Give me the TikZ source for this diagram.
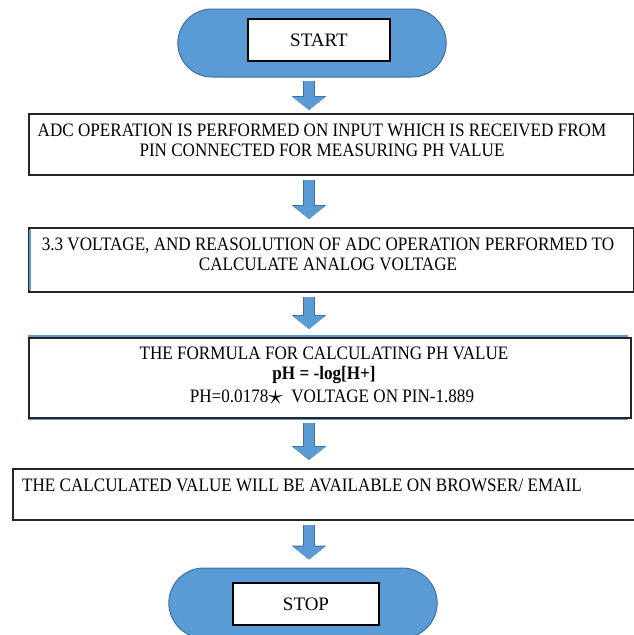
\documentclass[tikz,border=0pt]{standalone}
\usepackage{fontspec}
\setmainfont{Liberation Serif}[FakeStretch=0.9]
\newfontfamily\termfont{Liberation Serif}
\usetikzlibrary{arrows.meta,shapes.misc}
\definecolor{flowblue}{HTML}{5B9BD5}
\definecolor{flowedge}{HTML}{41719C}

\begin{document}
\begin{tikzpicture}[x=1pt, y=-1pt, >={Triangle[width=32pt,length=13pt]}]
\tikzstyle{term}=[draw=flowedge, fill=flowblue, line width=1pt, shape=rounded rectangle, minimum width=275pt, minimum height=68pt];
\tikzstyle{termtext}=[draw=black, fill=white, line width=1.5pt, minimum width=142pt, minimum height=42pt, font=\termfont\fontsize{19}{21}\selectfont];
\tikzstyle{stepbox}=[draw=black!85, line width=1.6pt, anchor=north west, inner sep=0pt];
\tikzstyle{steptext}=[font=\fontsize{19}{20}\selectfont, align=center, inner sep=0pt];
\tikzstyle{flow}=[->, draw=flowblue, line width=10pt, shorten <=4pt, shorten >=8pt,
  preaction={draw=flowedge, line width=11.5pt, -{Triangle[width=34pt,length=14pt]}}];
\useasboundingbox (0,0) rectangle (634,635);
\coordinate (axis) at (309,0);
% start / stop
\path (312,43) node[term] (start) {};
\path (319,40) node[termtext] (starttext) {START};
\path (303,603) node[term, minimum height=70pt] (stop) {};
\path (306,604) node[termtext, minimum width=146pt] (stoptext) {STOP};
% steps
\path (28,113) node[stepbox, minimum width=605pt, minimum height=61pt] (adc) {};
\path (322,140) node[steptext] (adctext) {ADC OPERATION IS PERFORMED ON INPUT WHICH IS RECEIVED FROM\\PIN CONNECTED FOR MEASURING PH VALUE};
\path (28,227) node[stepbox, minimum width=605pt, minimum height=64pt] (volt) {};
\path (328,254) node[steptext] (volttext) {3.3 VOLTAGE, AND REASOLUTION OF ADC OPERATION PERFORMED TO\\CALCULATE ANALOG VOLTAGE};
\path (28,337) node[stepbox, minimum width=602pt, minimum height=80pt] (formula) {};
\path (324,376) node[steptext] (formulatext) {THE FORMULA FOR CALCULATING PH VALUE\\\textbf{pH = -log[H+]}\\[3pt]\hspace*{16pt}PH=0.0178\raisebox{-2pt}{\scalebox{1.7}{$\star$}}\ \ VOLTAGE ON PIN-1.889};
\path (12,468) node[stepbox, minimum width=622pt, minimum height=51pt] (result) {};
\path (22,485) node[steptext, anchor=west] (resulttext) {THE CALCULATED VALUE WILL BE AVAILABLE ON BROWSER/ EMAIL};
% blue edges
\draw[flowblue, line width=2.5pt] ([xshift=2pt, yshift=-3pt]volt.north west) -- ([xshift=2pt, yshift=3pt]volt.south west);
\draw[flowblue, line width=1.5pt] ([yshift=0.8pt]formula.north west) -- ([yshift=0.8pt, xshift=-4pt]formula.north east);
\draw[flowblue, line width=1.5pt] ([yshift=-0.8pt]formula.south west) -- ([yshift=-0.8pt, xshift=-4pt]formula.south east);
% arrows
\draw[flow, shorten >=3pt, shorten <=3pt] (start.south -| axis) -- (adc.north -| axis);
\draw[flow] (adc.south -| axis) -- (volt.north -| axis);
\draw[flow] (volt.south -| axis) -- (formula.north -| axis);
\draw[flow] (formula.south -| axis) -- (result.north -| axis);
\draw[flow] (result.south -| axis) -- (stop.north -| axis);
\end{tikzpicture}
\end{document}
